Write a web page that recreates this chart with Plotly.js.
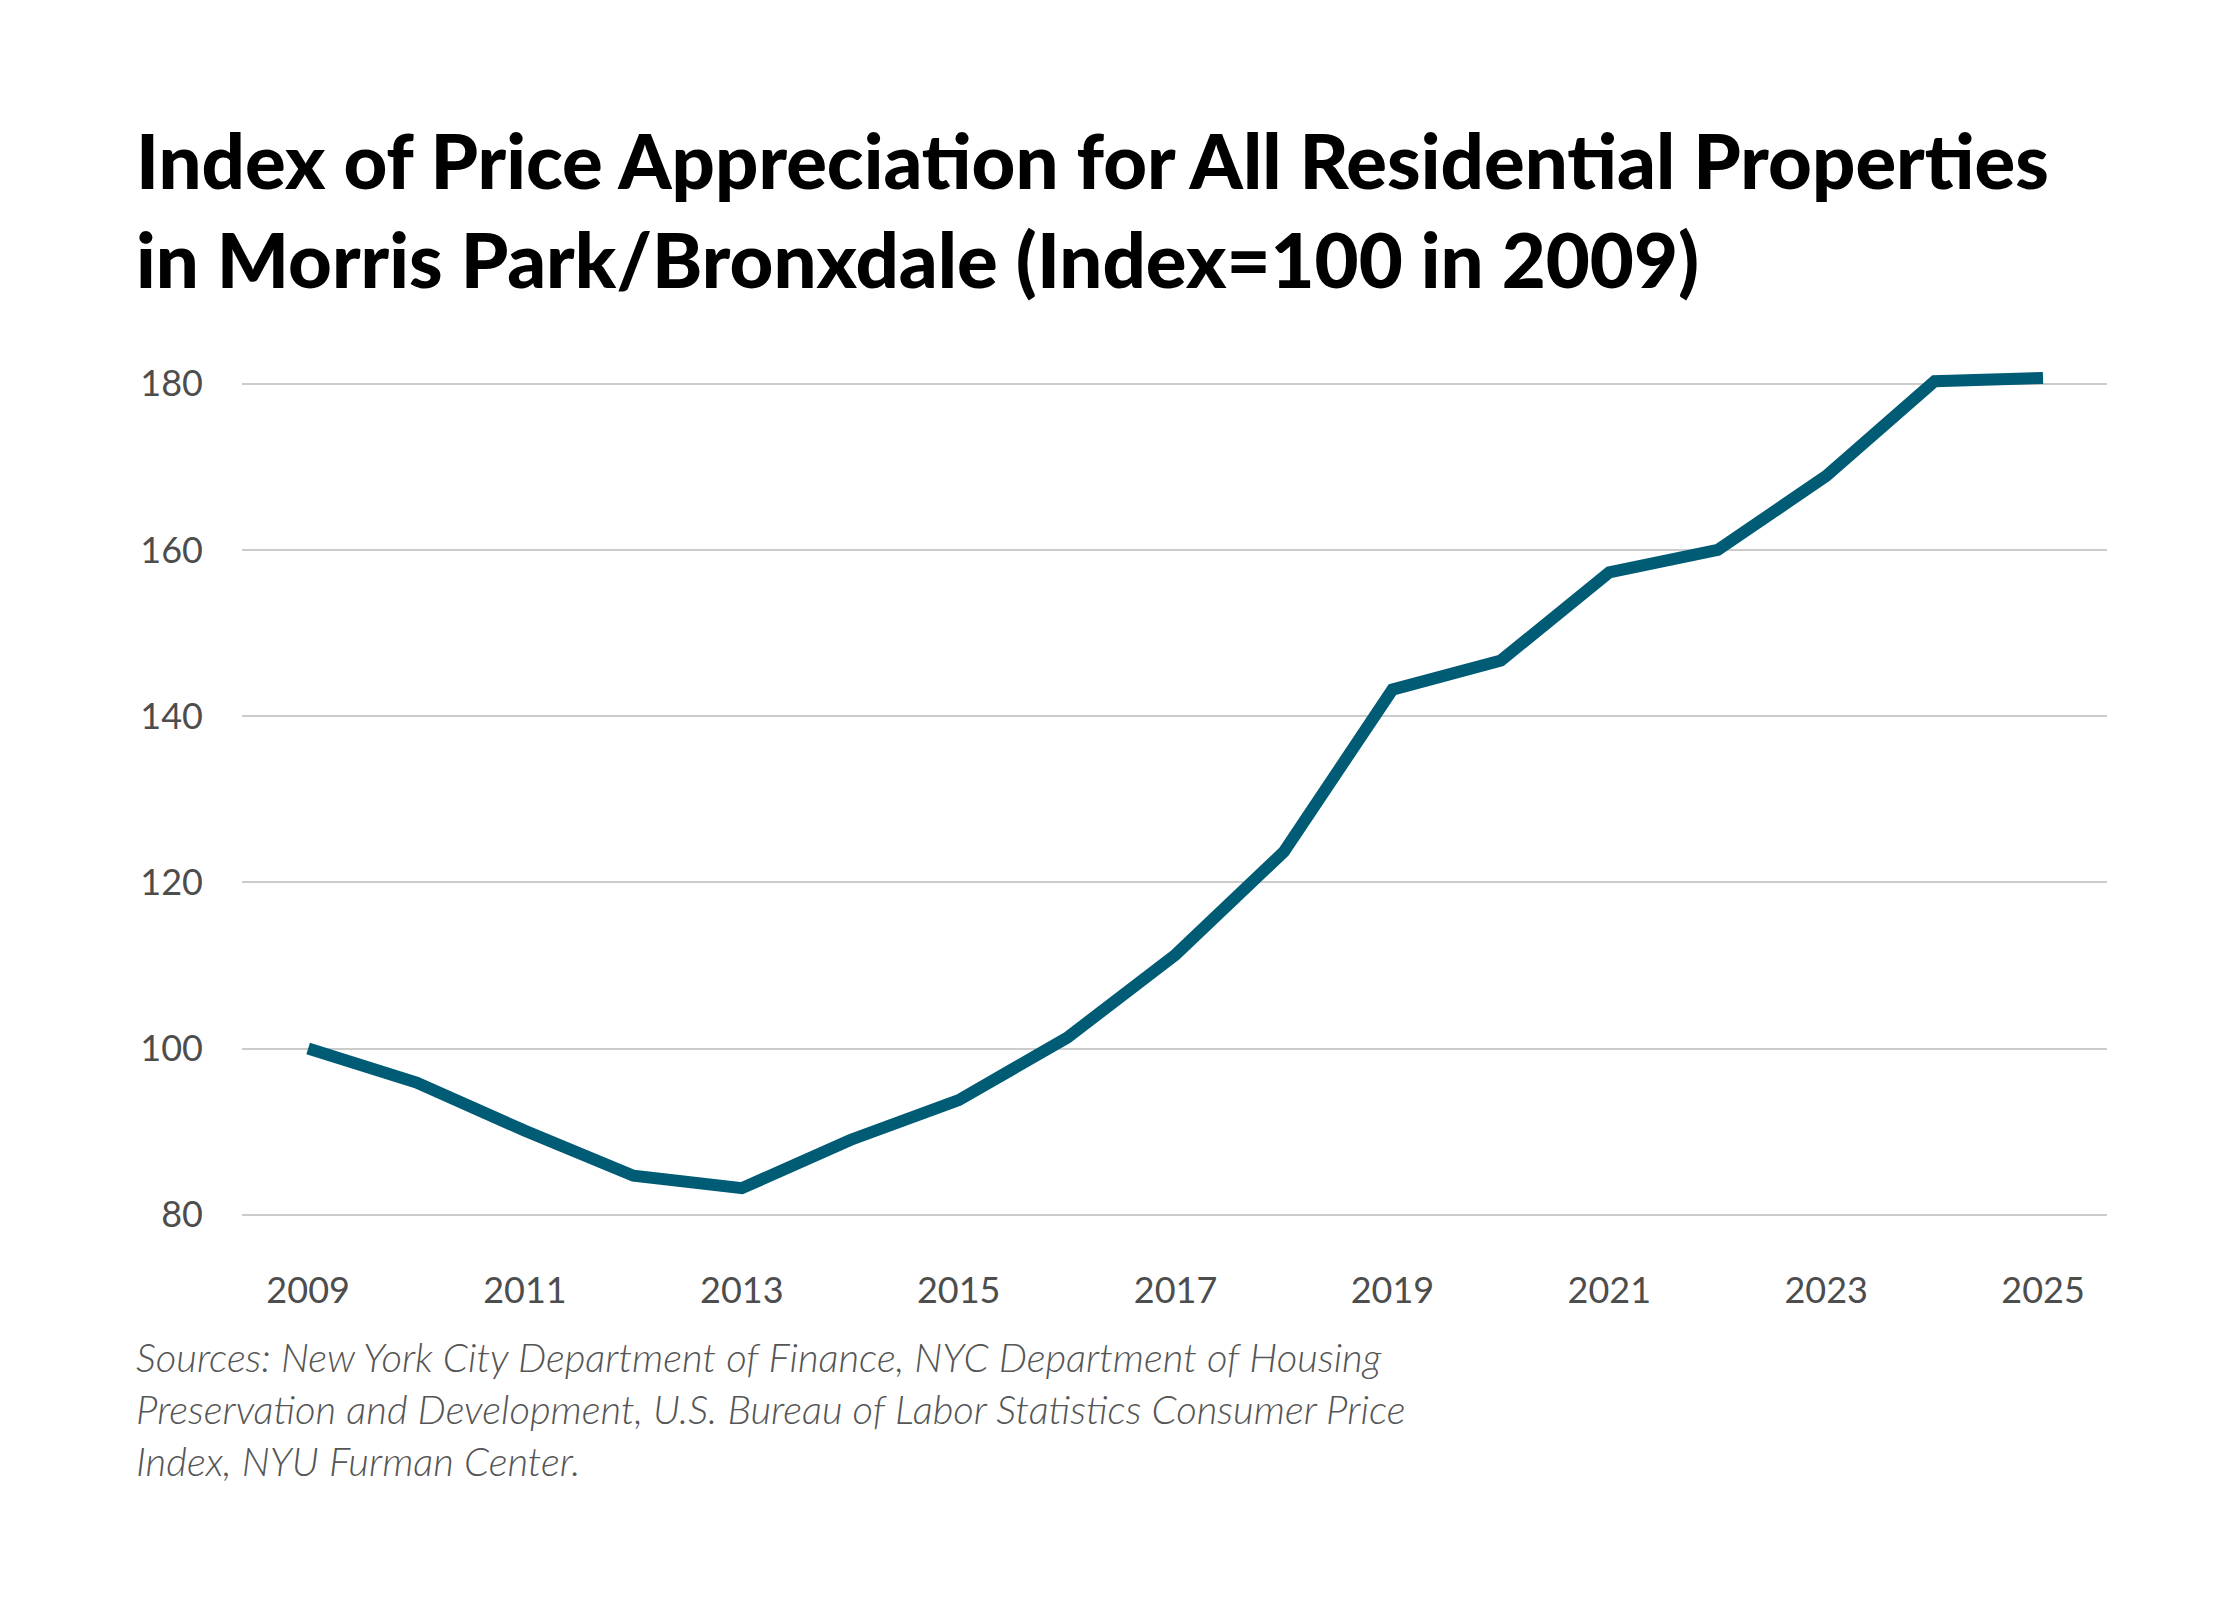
<!DOCTYPE html>
<html>
<head>
<meta charset="utf-8">
<script src="https://cdn.plot.ly/plotly-3.0.1.min.js"></script>
<style>
    body { margin: 0; background: #ffffff; }
    #chart { width: 2240px; height: 1600px; }
</style>
</head>
<body>
<div id="chart"></div>
<script>
// values, index = 100 in 2009
const years = [2009, 2010, 2011, 2012, 2013, 2014, 2015, 2016, 2017, 2018, 2019, 2020, 2021, 2022, 2023, 2024, 2025]
const priceIndex = [100, 95.9, 90.1, 84.7, 83.2, 89.0, 93.8, 101.3, 111.3, 123.7, 143.2, 146.7, 157.3, 160.0, 168.9, 180.3, 180.7]

const xTickYears = [2009, 2011, 2013, 2015, 2017, 2019, 2021, 2023, 2025]
const yTickValues = [80, 100, 120, 140, 160, 180]

const titleText = "Index of Price Appreciation for All Residential Properties<br>in Morris Park/Bronxdale (Index=100 in 2009)"
const sourceText = "Sources: New York City Department of Finance, NYC Department of Housing<br>" +
    "Preservation and Development, U.S. Bureau of Labor Statistics Consumer Price<br>" +
    "Index, NYU Furman Center."

class IndexChart {
    _div
    _lineColor = "#005b74"
    _tickColor = "#4d4d4d"

    constructor(divId) {
        this._div = document.getElementById(divId)
    }

    _makeTrace() {
        return {
            type: "scatter",
            mode: "lines",
            x: years,
            y: priceIndex,
            line: {
                color: this._lineColor,
                width: 12
            },
            hoverinfo: "x+y"
        }
    }

    _makeLayout() {
        let tickFont = {
            family: "Lato, sans-serif",
            size: 36,
            color: this._tickColor
        }

        return {
            width: 2240,
            height: 1600,
            autosize: false,
            paper_bgcolor: "#ffffff",
            plot_bgcolor: "#ffffff",
            showlegend: false,
            margin: {
                l: 242,
                r: 133,
                t: 363,
                b: 352
            },
            title: {
                text: titleText,
                font: {
                    family: "Lato, sans-serif",
                    size: 76,
                    weight: 900,
                    color: "#000000"
                },
                xref: "container",
                yref: "container",
                x: 0.0607,
                xanchor: "left",
                y: 0.882,
                yanchor: "top"
            },
            xaxis: {
                range: [2008.39, 2025.59],
                tickvals: xTickYears,
                tickformat: "d",
                ticks: "",
                showgrid: false,
                zeroline: false,
                showline: false,
                tickfont: tickFont,
                ticklabelstandoff: 18
            },
            yaxis: {
                range: [76, 182.5],
                tickvals: yTickValues,
                ticks: "",
                showgrid: true,
                gridcolor: "#cccccc",
                gridwidth: 2,
                zeroline: false,
                showline: false,
                tickfont: tickFont,
                ticklabelstandoff: 38
            },
            annotations: [
                {
                    text: sourceText,
                    xref: "paper",
                    yref: "paper",
                    x: -0.0579,
                    y: -0.094,
                    xanchor: "left",
                    yanchor: "top",
                    align: "left",
                    showarrow: false,
                    font: {
                        family: "Lato, sans-serif",
                        size: 40,
                        weight: 300,
                        style: "italic",
                        color: "#555555"
                    }
                }
            ]
        }
    }

    draw() {
        Plotly.newPlot(this._div, [this._makeTrace()], this._makeLayout(), {
            displayModeBar: false,
            responsive: false
        })
    }
}

new IndexChart("chart").draw()
</script>
</body>
</html>
